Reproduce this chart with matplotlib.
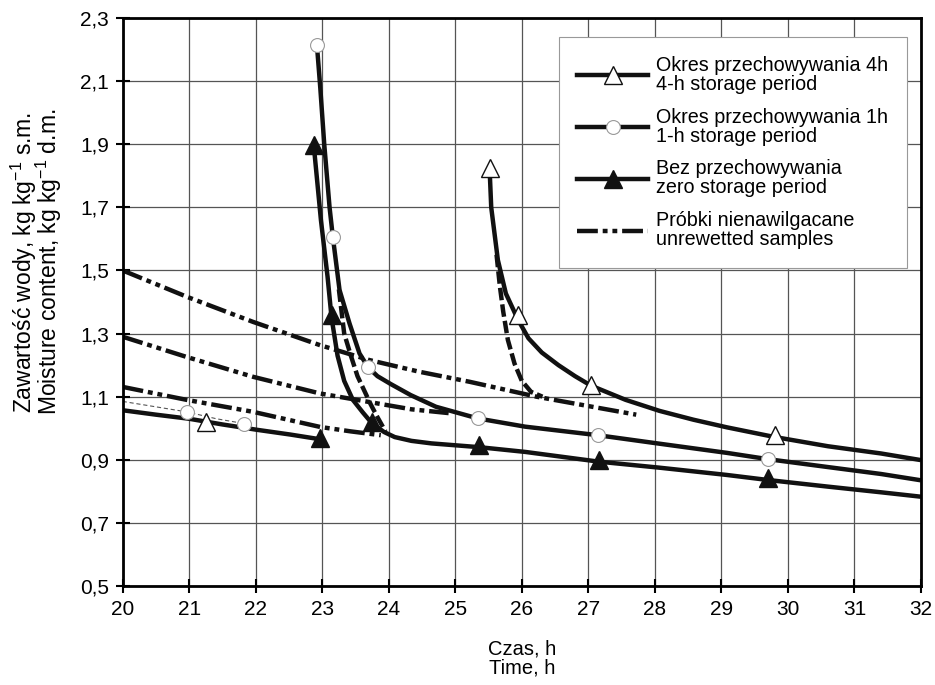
import matplotlib
matplotlib.use('Agg')
import matplotlib.pyplot as plt
from matplotlib.lines import Line2D

plt.rcParams['font.family'] = ['Liberation Sans', 'DejaVu Sans']
plt.rcParams['mathtext.fontset'] = 'custom'
plt.rcParams['mathtext.rm'] = 'Liberation Sans'
plt.rcParams['lines.scale_dashes'] = False

x_ticks = [20, 21, 22, 23, 24, 25, 26, 27, 28, 29, 30, 31, 32]
y_ticks = [0.5, 0.7, 0.9, 1.1, 1.3, 1.5, 1.7, 1.9, 2.1, 2.3]
y_tick_labels = ['0,5', '0,7', '0,9', '1,1', '1,3', '1,5', '1,7', '1,9', '2,1', '2,3']

# bez przechowywania (zero storage)
zero_pre_x = [20, 20.5, 21, 21.5, 22.02, 22.52, 22.97]
zero_pre_y = [1.057, 1.043, 1.03, 1.012, 0.995, 0.98, 0.965]
zero_x = [22.88, 22.98, 23.08, 23.14, 23.23, 23.33, 23.46, 23.61, 23.75, 23.93, 24.09, 24.34,
          24.64, 25.36, 26.05, 27.16, 28.07, 29.08, 29.7, 30.6, 31.4, 32]
zero_y = [1.88, 1.66, 1.48, 1.35, 1.23, 1.15, 1.09, 1.05, 1.015, 0.988, 0.972, 0.96,
          0.952, 0.94, 0.925, 0.894, 0.875, 0.852, 0.836, 0.815, 0.797, 0.783]
zero_mx = [22.88, 23.15, 23.75, 22.97, 25.36, 27.16, 29.7]
zero_my = [1.897, 1.358, 1.02, 0.968, 0.946, 0.9, 0.842]

# okres przechowywania 1h
h1_pre_x = [20, 20.96, 21.41, 21.82]
h1_pre_y = [1.085, 1.052, 1.03, 1.015]
h1_x = [22.92, 22.97, 23.03, 23.11, 23.16, 23.26, 23.41, 23.56, 23.69, 23.83, 24.03, 24.33,
        24.71, 25.34, 26.05, 27.14, 28.07, 29.08, 29.7, 30.6, 31.4, 32]
h1_y = [2.214, 2.08, 1.9, 1.70, 1.605, 1.438, 1.332, 1.237, 1.193, 1.165, 1.14, 1.105,
        1.068, 1.031, 1.005, 0.978, 0.951, 0.922, 0.902, 0.877, 0.855, 0.835]
h1_mx = [20.96, 21.82, 22.92, 23.16, 23.69, 25.34, 27.14, 29.7]
h1_my = [1.052, 1.015, 2.214, 1.605, 1.193, 1.031, 0.978, 0.902]
h1_fit_x = [23.25, 23.33, 23.43, 23.53, 23.63, 23.73, 23.83, 23.95]
h1_fit_y = [1.44, 1.30, 1.23, 1.165, 1.12, 1.075, 1.035, 0.99]

# okres przechowywania 4h
h4_x = [25.52, 25.54, 25.64, 25.76, 25.94, 26.1, 26.3, 26.55, 26.8, 27.04, 27.56, 28.07,
        28.58, 29.08, 29.78, 30.6, 31.4, 32]
h4_y = [1.80, 1.70, 1.533, 1.427, 1.345, 1.285, 1.24, 1.2, 1.165, 1.135, 1.09, 1.055,
        1.027, 1.003, 0.973, 0.943, 0.92, 0.899]
h4_mx = [21.26, 25.52, 25.94, 27.04, 29.8]
h4_my = [1.02, 1.824, 1.358, 1.137, 0.978]
h4_fit_x = [25.62, 25.67, 25.72, 25.79, 25.89, 26.0, 26.14, 26.31]
h4_fit_y = [1.55, 1.45, 1.37, 1.28, 1.205, 1.15, 1.115, 1.10]

# próbki nienawilgacane
unw_top_x = [20, 20.96, 21.96, 22.97, 23.71, 24.46, 25.22, 26.22, 27.06, 27.72]
unw_top_y = [1.5, 1.417, 1.337, 1.263, 1.216, 1.179, 1.147, 1.10, 1.068, 1.043]
unw_mid_x = [20, 20.96, 21.96, 22.97, 23.71, 24.34, 24.9]
unw_mid_y = [1.29, 1.226, 1.163, 1.11, 1.083, 1.06, 1.048]
unw_low_x = [20, 20.96, 21.96, 22.97, 23.43, 23.88]
unw_low_y = [1.131, 1.09, 1.052, 1.004, 0.99, 0.978]

labels = ['Okres przechowywania 4h\n4-h storage period',
          'Okres przechowywania 1h\n1-h storage period',
          'Bez przechowywania\nzero storage period',
          'Próbki nienawilgacane\nunrewetted samples']

dashdot = (0, (15, 3.5, 3.5, 3.5, 3.5, 3.5))
dashed = (0, (9, 3))
lw = 3.2
ink = '#111111'

fig = plt.figure(figsize=(9.35, 6.85), dpi=100)
ax = fig.add_axes([0.1312, 0.1445, 0.8538, 0.8292])

ax.plot(unw_top_x, unw_top_y, color=ink, lw=lw, ls=dashdot)
ax.plot(unw_mid_x, unw_mid_y, color=ink, lw=lw, ls=dashdot)
ax.plot(unw_low_x, unw_low_y, color=ink, lw=lw, ls=dashdot)

ax.plot(h1_pre_x, h1_pre_y, color='#555555', lw=0.8, ls=(0, (3, 2)))
ax.plot(h1_fit_x, h1_fit_y, color=ink, lw=lw, ls=dashed)
ax.plot(h4_fit_x, h4_fit_y, color=ink, lw=lw, ls=dashed)

ax.plot(zero_pre_x, zero_pre_y, color=ink, lw=lw, solid_capstyle='butt')
ax.plot(zero_x, zero_y, color=ink, lw=lw, solid_capstyle='butt')
ax.plot(h1_x, h1_y, color=ink, lw=lw, solid_capstyle='butt')
ax.plot(h4_x, h4_y, color=ink, lw=lw, solid_capstyle='butt')

ax.plot(zero_mx, zero_my, ls='none', marker='^', ms=13, mfc=ink, mec=ink)
ax.plot(h1_mx, h1_my, ls='none', marker='o', ms=10, mfc='white', mec='#999999', mew=0.8)
ax.plot(h4_mx, h4_my, ls='none', marker='^', ms=13, mfc='white', mec=ink, mew=1.0)

handles = [
    Line2D([], [], color=ink, lw=lw, marker='^', ms=13, mfc='white', mec=ink, mew=1.0),
    Line2D([], [], color=ink, lw=lw, marker='o', ms=10, mfc='white', mec='#999999', mew=0.8),
    Line2D([], [], color=ink, lw=lw, marker='^', ms=13, mfc=ink, mec=ink),
    Line2D([], [], color=ink, lw=lw, ls=dashdot),
]
leg = ax.legend(handles, labels, loc='upper right', bbox_to_anchor=(0.9825, 0.9665),
                fontsize=14.2, frameon=True, fancybox=False, framealpha=1,
                edgecolor='#999999', handlelength=3.6, handletextpad=0.4,
                labelspacing=0.7, borderpad=0.95, borderaxespad=0)
leg.get_frame().set_linewidth(0.8)
for t in leg.get_texts():
    t.set_linespacing(1.0)

ax.set_xlim(20, 32)
ax.set_ylim(0.5, 2.3)
ax.set_xticks(x_ticks)
ax.set_xticklabels([str(v) for v in x_ticks])
ax.set_yticks(y_ticks)
ax.set_yticklabels(y_tick_labels)
ax.tick_params(direction='inout', length=10, width=1.5, labelsize=15, pad=5)
ax.grid(True, color='#555555', lw=0.9)
ax.set_axisbelow(True)
for s in ax.spines.values():
    s.set_linewidth(2)

ax.set_ylabel('Zawartość wody, kg kg$^{-1}$ s.m.\nMoisture content, kg kg$^{-1}$ d.m.',
              fontsize=16.5, linespacing=0.8)
ax.yaxis.set_label_coords(-0.073, 0.57)
ax.set_xlabel('Czas, h\nTime, h', fontsize=14.5, linespacing=1.0)
ax.xaxis.set_label_coords(0.5, -0.095)

fig.savefig('out.png', dpi=100)
